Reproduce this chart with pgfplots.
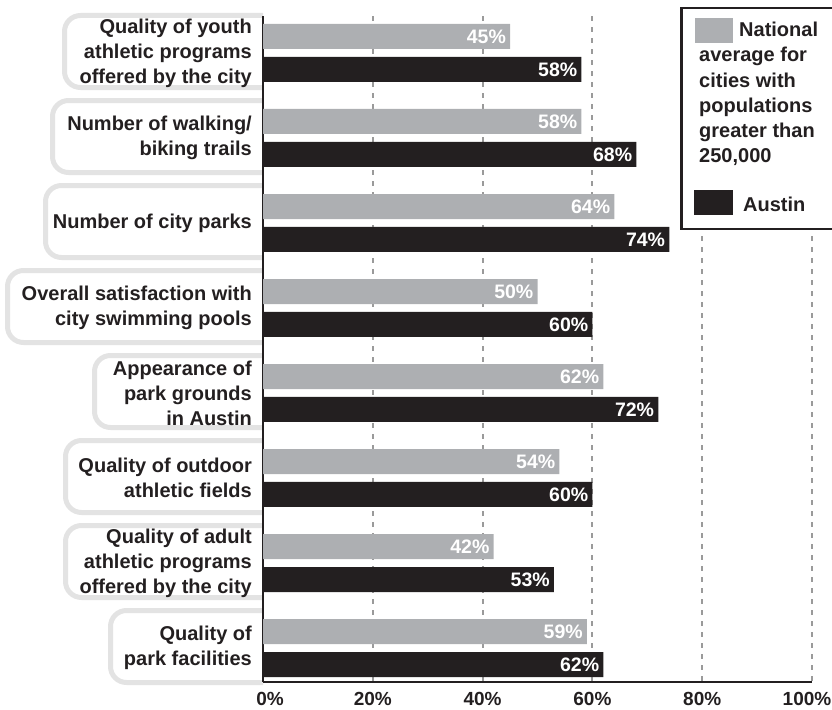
\documentclass[border=0pt]{standalone}
\usepackage{fontspec}
\setmainfont{Liberation Sans}
\usepackage{pgfplots}
\pgfplotsset{compat=1.18}
\definecolor{ink}{HTML}{231F20}
\definecolor{natgray}{HTML}{ADAFB2}
\definecolor{boxgray}{HTML}{E3E3E3}
\definecolor{gridgray}{HTML}{9A9A9A}
\begin{document}
\begin{tikzpicture}
\useasboundingbox (0pt,0pt) rectangle (832pt,-709pt);
% rounded label boxes (clipped at the axis line)
\begin{scope}
\clip (0pt,0pt) rectangle (263pt,-709pt);
\foreach \L [count=\k from 0] in {62,50,43,5,92,63,63,108}{
  \pgfmathsetmacro\c{53+85*\k}
  \draw[boxgray, line width=5pt, rounded corners=16pt]
    ({\L pt+2.5pt},{-\c pt+37.5pt}) rectangle (300pt,{-\c pt-34.5pt});
}
\end{scope}
\begin{axis}[
  at={(263pt,-682pt)}, anchor=south west,
  width=549pt, height=666pt, scale only axis,
  xmin=0, xmax=100, ymin=-0.435, ymax=7.4, y dir=reverse,
  axis x line*=bottom, axis y line*=left,
  axis line style={-, line width=2.6pt, ink},
  xtick={0,20,40,60,80,100},
  xticklabels={\hspace*{14pt}0\%,20\%,40\%,60\%,80\%,100\%\hspace*{10pt}},
  ytick={0,1,2,3,4,5,6,7},
  yticklabels={
    {Quality of youth\\athletic programs\\offered by the city},
    {Number of walking/\\biking trails},
    {Number of city parks},
    {Overall satisfaction with\\city swimming pools},
    {Appearance of\\park grounds\\in Austin},
    {Quality of outdoor\\athletic fields},
    {Quality of adult\\athletic programs\\offered by the city},
    {Quality of\\park facilities}},
  major tick length=0pt,
  xmajorgrids, ymajorgrids=false,
  grid style={gridgray, line width=1.9pt, dash pattern=on 5pt off 6pt},
  xticklabel style={font=\bfseries\fontsize{19}{23}\selectfont, text=ink, inner sep=0pt, anchor=north, yshift=-10pt},
  yticklabel style={font=\bfseries\fontsize{20}{25}\selectfont, text=ink, inner sep=0pt, align=right, anchor=east, xshift=-11pt},
  xbar, bar width=25pt, bar shift=0pt,
  point meta=x,
  nodes near coords={\pgfmathprintnumber[assume math mode=true]{\pgfplotspointmeta}\%},
  every node near coord/.append style={anchor=east, text=white, font=\bfseries\fontsize{19.5}{20}\selectfont, inner sep=0pt, xshift=-4pt},
]
% National average (gray)
\addplot[fill=natgray, draw=none] coordinates {
  (45,-0.194) (58,0.806) (64,1.806) (50,2.806) (62,3.806) (54,4.806) (42,5.806) (59,6.806)};
% Austin (black)
\addplot[fill=ink, draw=none] coordinates {
  (58,0.194) (68,1.194) (74,2.194) (60,3.194) (72,4.194) (60,5.194) (53,6.194) (62,7.194)};
\end{axis}
% legend
\draw[ink, line width=2.5pt, fill=white] (681.25pt,-8.25pt) rectangle (840pt,-228.75pt);
\fill[natgray] (695pt,-18pt) rectangle (733pt,-43pt);
\fill[ink] (694pt,-190pt) rectangle (733pt,-215pt);
\begin{scope}[every node/.style={anchor=base west, inner sep=0pt, text=ink, font=\bfseries\fontsize{20}{25}\selectfont}]
\node at (739pt,-37pt) {National};
\node at (699pt,-62pt) {average for};
\node at (699pt,-87pt) {cities with};
\node at (699pt,-112pt) {populations};
\node at (699pt,-137pt) {greater than};
\node at (699pt,-162pt) {250,000};
\node at (743pt,-211pt) {Austin};
\end{scope}
\end{tikzpicture}
\end{document}
